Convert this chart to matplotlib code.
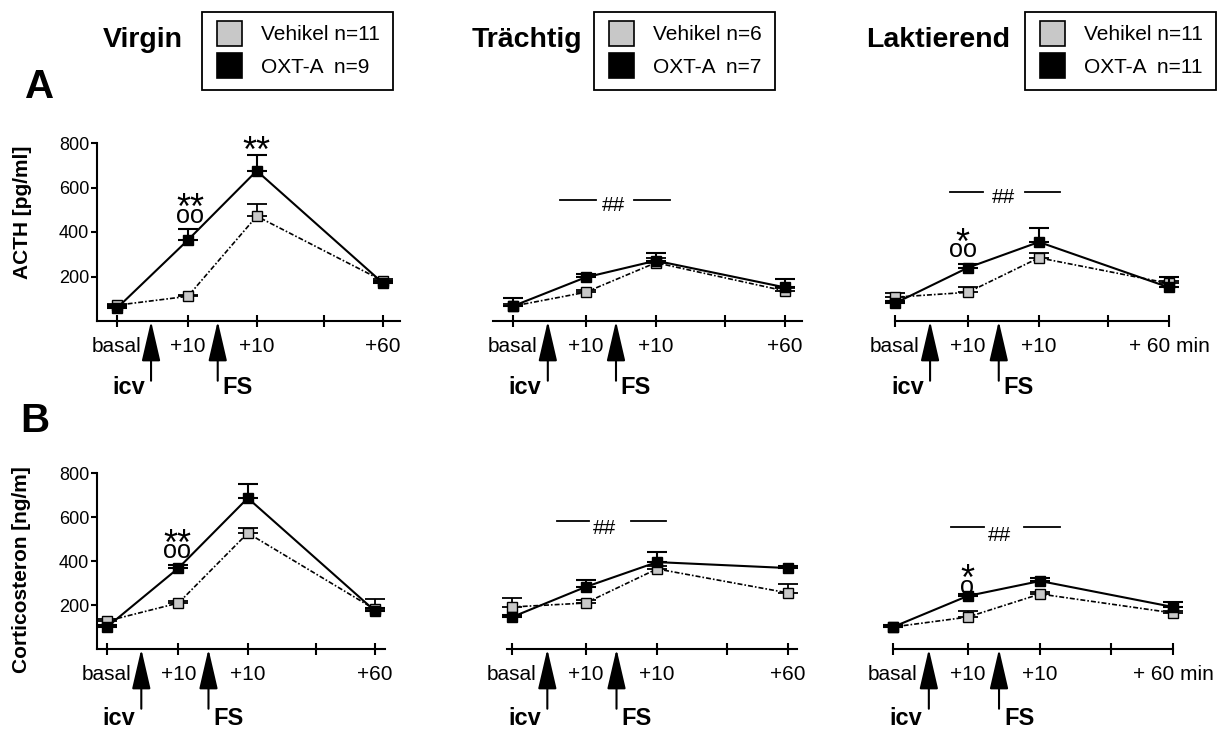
import numpy as np
import matplotlib
matplotlib.use('Agg')
import matplotlib.pyplot as plt
import matplotlib.transforms as mtrans
from matplotlib.lines import Line2D

plt.rcParams['font.family'] = ['Liberation Sans', 'DejaVu Sans']

W, H = 1224, 732

# time points: basal, +10 (icv), +10 (FS), spare tick, +60
tick_pos = [0, 1, 1.97, 2.92, 3.75]
data_x = [0, 1, 1.97, 3.75]
icv_x = 0.48
fs_x = 1.42

groups = ['Virgin', 'Trächtig', 'Laktierend']
n_veh = [11, 6, 11]
n_oxt = [9, 7, 11]

# ACTH [pg/ml]
acth_veh = [[71, 111, 471, 180], [67, 129, 262, 135], [107, 129, 284, 169]]
acth_veh_err = [[5, 8, 53, 8], [10, 10, 20, 15], [17, 26, 22, 10]]
acth_oxt = [[58, 364, 675, 170], [67, 196, 271, 151], [80, 240, 355, 151]]
acth_oxt_err = [[8, 49, 71, 12], [35, 15, 36, 38], [8, 18, 63, 49]]

# Corticosteron [ng/ml]
cort_veh = [[127, 209, 527, 180], [191, 209, 364, 255], [100, 145, 250, 164]]
cort_veh_err = [[8, 8, 23, 47], [41, 12, 15, 40], [8, 28, 9, 8]]
cort_oxt = [[100, 368, 686, 173], [145, 282, 395, 368], [100, 241, 309, 191]]
cort_oxt_err = [[8, 12, 64, 15], [8, 32, 46, 8], [8, 8, 14, 23]]

# significance marks: (stars, circles, x, y of the stars)
sig_marks = {
    (0, 0): [('**', '', 1.97, 791), ('**', 'oo', 1.03, 544)],
    (0, 2): [('*', 'oo', 0.92, 391)],
    (1, 0): [('**', 'oo', 0.98, 518)],
    (1, 2): [('*', 'o', 0.99, 355)],
}
# group effect "—— ## ——": (line y, left line, right line, hash x, hash y)
hash_marks = {
    (0, 1): (544, (0.65, 1.14), (1.67, 2.17), 1.38, 521),
    (0, 2): (580, (0.75, 1.20), (1.78, 2.26), 1.48, 557),
    (1, 1): (582, (0.61, 1.05), (1.62, 2.09), 1.26, 550),
    (1, 2): (555, (0.78, 1.22), (1.75, 2.24), 1.43, 518),
}

# layout in pixels: basal px, +60 px, axis start, axis end
panel_px = {
    (0, 0): (117, 383, 97, 400),
    (0, 1): (513, 785, 493, 802),
    (0, 2): (895, 1169, 895, 1169),
    (1, 0): (107, 375, 97, 385),
    (1, 1): (512, 788, 507, 797),
    (1, 2): (893, 1173, 893, 1173),
}
row_px = {0: (321, 143), 1: (649, 473)}
legend_left = [202, 594, 1025]
title_right = [183, 582, 1010]

fig = plt.figure(figsize=(W / 100, H / 100), dpi=100)

veh_style = dict(color='k', lw=1.2, ls=(0, (3, 1.2, 1, 1.2)), marker='s', ms=7.5,
                 mfc='#c8c8c8', mec='k', mew=1.0)
oxt_style = dict(color='k', lw=1.5, ls='-', marker='s', ms=7.5, mfc='k', mec='k', mew=1.0)

for r in range(2):
    veh_all, veh_e, oxt_all, oxt_e = ((acth_veh, acth_veh_err, acth_oxt, acth_oxt_err) if r == 0
                                      else (cort_veh, cort_veh_err, cort_oxt, cort_oxt_err))
    for c in range(3):
        p0, p4, a0, a1 = panel_px[(r, c)]
        unit = (p4 - p0) / tick_pos[-1]
        yb, yt = row_px[r]
        ax = fig.add_axes([a0 / W, (H - yb) / H, (a1 - a0) / W, (yb - yt) / H])
        ax.set_xlim((a0 - p0) / unit, (a1 - p0) / unit)
        ax.set_ylim(0, 800)
        ax.patch.set_visible(False)

        z = np.zeros(len(data_x))
        ax.errorbar(data_x, veh_all[c], yerr=[z, veh_e[c]], fmt='none', ecolor='k',
                    elinewidth=1.3, capsize=7, capthick=1.3, zorder=2, clip_on=False)
        ax.plot(data_x, veh_all[c], zorder=3, clip_on=False, **veh_style)
        ax.errorbar(data_x, oxt_all[c], yerr=[z, oxt_e[c]], fmt='none', ecolor='k',
                    elinewidth=1.5, capsize=7, capthick=1.5, zorder=4, clip_on=False)
        ax.plot(data_x, oxt_all[c], zorder=5, clip_on=False, **oxt_style)

        for s in ['top', 'right']:
            ax.spines[s].set_visible(False)
        ax.spines['bottom'].set_linewidth(1.5)
        if c == 0:
            ax.spines['left'].set_linewidth(1.5)
            ax.set_yticks([200, 400, 600, 800])
            ax.tick_params(axis='y', direction='out', length=4.5, width=1.5, labelsize=13, pad=1)
        else:
            ax.spines['left'].set_visible(False)
            ax.set_yticks([])
        labels = ['basal', '+10', '+10', '', '+ 60 min' if c == 2 else '+60']
        ax.set_xticks(tick_pos)
        ax.set_xticklabels(labels)
        ax.tick_params(axis='x', direction='inout', length=8.5, width=1.5, labelsize=15, pad=7)

        # injection / forced swim arrows
        for xa, lab, ha, dx in [(icv_x, 'icv', 'right', -4.5), (fs_x, 'FS', 'left', 3.5)]:
            ax.annotate('', xy=(xa, 0), xytext=(0, -43), textcoords='offset points',
                        annotation_clip=False,
                        arrowprops=dict(arrowstyle='-|>,head_length=1.25,head_width=0.29',
                                        mutation_scale=20, lw=1.5, color='k',
                                        shrinkA=0, shrinkB=0))
            ax.annotate(lab, xy=(xa, 0), xytext=(dx, -48 if r == 0 else -50),
                        textcoords='offset points', ha=ha, va='center', fontsize=17,
                        fontweight='bold', annotation_clip=False)

        # stars with smaller circles right underneath, one text each
        star_tr = mtrans.offset_copy(ax.transData, fig=fig, y=-12, units='points')
        for stars, circ, tx, ty in sig_marks.get((r, c), []):
            s = stars + ('\n' + r'$_\mathregular{%s}$' % circ if circ else '')
            ax.text(tx, ty, s, transform=star_tr, ha='center', va='baseline', fontsize=26,
                    linespacing=-0.4, clip_on=False)

        if (r, c) in hash_marks:
            ly, (l1a, l1b), (l2a, l2b), hx, hy = hash_marks[(r, c)]
            ax.plot([l1a, l1b], [ly, ly], color='k', lw=1.3, clip_on=False)
            ax.plot([l2a, l2b], [ly, ly], color='k', lw=1.3, clip_on=False)
            ax.text(hx, hy, '##', ha='center', va='center', fontsize=15, clip_on=False)

# group titles and legends
for c in range(3):
    fig.text(title_right[c] / W, 1 - 47 / H, groups[c], ha='right', va='baseline',
             fontsize=20.5, fontweight='bold')
    handles = [Line2D([], [], ls='none', marker='s', ms=18, mfc='#c8c8c8', mec='k', mew=1.2),
               Line2D([], [], ls='none', marker='s', ms=18, mfc='k', mec='k', mew=1.2)]
    leg = fig.legend(handles, [f'Vehikel n={n_veh[c]}', f'OXT-A  n={n_oxt[c]}'],
                     loc='upper left', bbox_to_anchor=(legend_left[c] / W, 1 - 12 / H),
                     fontsize=15, frameon=True, fancybox=False, edgecolor='k', framealpha=1,
                     borderpad=0.64, handlelength=1.3, handletextpad=0.9, labelspacing=0.64,
                     borderaxespad=0)
    leg.get_frame().set_linewidth(1.3)

fig.text(25 / W, 1 - 98 / H, 'A', ha='left', va='baseline', fontsize=29, fontweight='bold')
fig.text(20 / W, 1 - 432 / H, 'B', ha='left', va='baseline', fontsize=29, fontweight='bold')
fig.text(23 / W, 1 - 212 / H, 'ACTH [pg/ml]', rotation=90, ha='center', va='center',
         fontsize=15, fontweight='bold')
fig.text(22 / W, 1 - 570 / H, 'Corticosteron [ng/m]', rotation=90, ha='center', va='center',
         fontsize=15, fontweight='bold')

fig.savefig('out.png', dpi=100)
